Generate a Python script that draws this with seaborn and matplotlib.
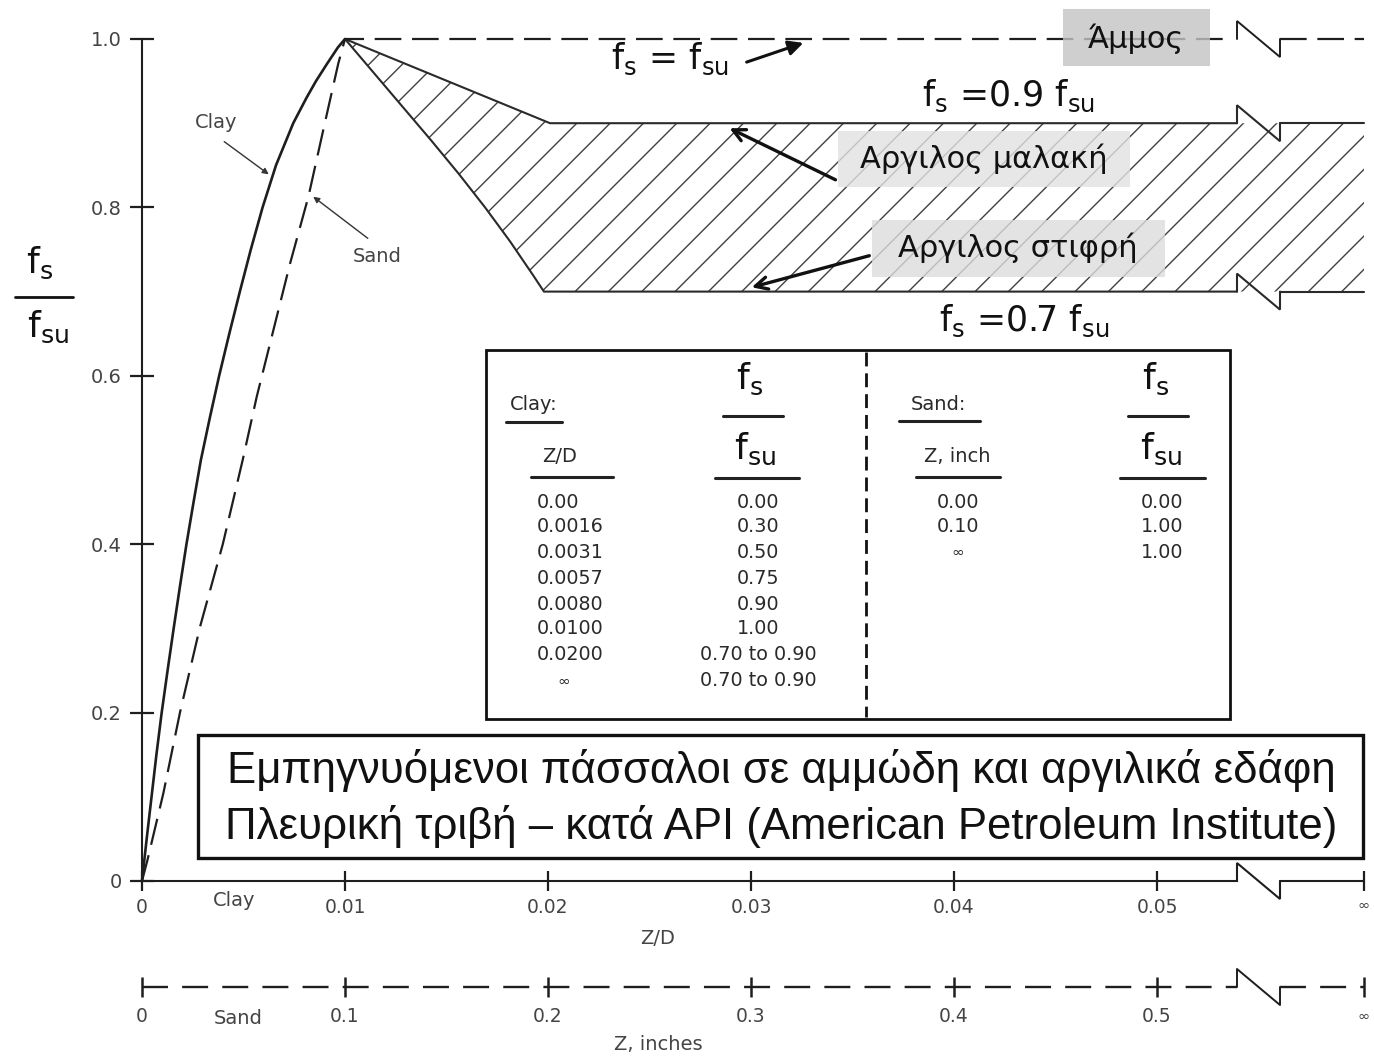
import matplotlib
matplotlib.use("Agg")
import matplotlib.pyplot as plt
import seaborn as sns
from matplotlib.patches import Rectangle

# ---------------- data ----------------
clay_fs = [0.0, 0.05, 0.10, 0.15, 0.20, 0.25, 0.30, 0.35, 0.40, 0.45, 0.50, 0.55, 0.60,
           0.65, 0.70, 0.75, 0.80, 0.85, 0.90, 0.93, 0.95, 0.97, 0.99, 1.00]
clay_zd = [0.0, 0.00023, 0.00047, 0.00071, 0.00097, 0.00126, 0.00156, 0.00187, 0.00219,
           0.00254, 0.0029, 0.00334, 0.0038, 0.0043, 0.00482, 0.00536, 0.00594, 0.0066,
           0.00745, 0.0081, 0.00857, 0.0091, 0.00965, 0.0100]

sand_zd = [0.0, 0.00027, 0.00105, 0.00187, 0.00286, 0.00398, 0.00496, 0.00565,
           0.00647, 0.00729, 0.0082, 0.00893, 0.00967, 0.0100]
sand_fs = [0.0, 0.025, 0.104, 0.20, 0.302, 0.40, 0.50, 0.575,
           0.654, 0.733, 0.813, 0.892, 0.971, 1.00]

soft_zd = [0.0100, 0.0201]                       # soft clay (upper bound)
soft_fs = [1.00, 0.90]
stiff_zd = [0.0100, 0.01141, 0.01282, 0.01423, 0.0156, 0.0169, 0.01812, 0.01925, 0.0198]
stiff_fs = [1.00, 0.96, 0.92, 0.88, 0.84, 0.80, 0.76, 0.72, 0.70]

sand_limit = 1.0
soft_limit = 0.9
stiff_limit = 0.7

zd_ticks = [0, 0.01, 0.02, 0.03, 0.04, 0.05]
zd_tick_labels = ["0", "0.01", "0.02", "0.03", "0.04", "0.05"]
z_in_ticks = [0, 0.1, 0.2, 0.3, 0.4, 0.5]
z_in_tick_labels = ["0", "0.1", "0.2", "0.3", "0.4", "0.5"]
fs_ticks = [0, 0.2, 0.4, 0.6, 0.8, 1.0]
fs_tick_labels = ["0", "0.2", "0.4", "0.6", "0.8", "1.0"]

table_clay_zd = ["0.00", "0.0016", "0.0031", "0.0057", "0.0080", "0.0100", "0.0200", "∞"]
table_clay_fs = ["0.00", "0.30", "0.50", "0.75", "0.90", "1.00", "0.70 to 0.90", "0.70 to 0.90"]
table_sand_z = ["0.00", "0.10", "∞"]
table_sand_fs = ["0.00", "1.00", "1.00"]

# ---------------- layout helpers ----------------
W, H = 1374, 1056
def X(px):
    return (px - 142) / 20300.0
def Y(py):
    return (881 - py) / 842.0

Z_INF = X(1364)          # position of the "infinity" tick
BRK0, BRK1 = X(1237), X(1280)   # axis-break zigzag
INCH_POS = 0.1           # 0.1 inch drawn at the 0.01 Z/D position
DY = 18 / 842.0

sns.set_theme(style="ticks")
plt.rcParams["font.family"] = ["DejaVu Sans"]
plt.rcParams["mathtext.fontset"] = "dejavusans"
plt.rcParams["hatch.linewidth"] = 1.0
plt.rcParams["hatch.color"] = "#404040"

fig = plt.figure(figsize=(13.74, 10.56), dpi=100)
ax = fig.add_axes([0, 0, 1, 1])
ax.set_xlim(X(0), X(W))
ax.set_ylim(Y(H), Y(0))
ax.set_facecolor("white")

LC = "#1e1e1e"
GT = "#444444"
# ---------------- axes (spines, ticks) ----------------
for s in ["top", "right"]:
    ax.spines[s].set_visible(False)
ax.spines["left"].set_position(("data", 0))
ax.spines["left"].set_bounds(0, 1)
ax.spines["bottom"].set_position(("data", 0))
ax.spines["bottom"].set_bounds(0, BRK0)
for s in ["left", "bottom"]:
    ax.spines[s].set_linewidth(1.5)
    ax.spines[s].set_color(LC)

ax.set_xticks(zd_ticks + [Z_INF], zd_tick_labels + ["∞"])
ax.set_yticks(fs_ticks, fs_tick_labels)
ax.tick_params(axis="both", direction="inout", width=1.6, color=LC, labelcolor=GT)
ax.tick_params(axis="y", length=17, pad=6, labelsize=14)
ax.tick_params(axis="x", length=14.5, pad=5, labelsize=13.5)
ax.get_xticklabels()[-1].set_fontsize(10.5)

def zigzag(y, lw=1.5, color=LC):
    ax.plot([BRK0, BRK0, BRK1, BRK1], [y, y + DY, y - DY, y], color=color,
            lw=lw, solid_joinstyle="miter", zorder=3)

# bottom axis break + tail to infinity
zigzag(0.0)
ax.plot([BRK1, Z_INF], [0, 0], color=LC, lw=1.5)

# ---------------- hatched band (soft / stiff clay) ----------------
poly_x = soft_zd + [Z_INF, Z_INF, stiff_zd[-1]] + stiff_zd[::-1][1:]
poly_y = soft_fs + [soft_limit, stiff_limit, stiff_limit] + stiff_fs[::-1][1:]
ax.fill(poly_x, poly_y, facecolor="none", edgecolor="#404040", hatch="/", linewidth=0, zorder=1)

band_lw = 1.5
sns.lineplot(x=soft_zd + [BRK0], y=soft_fs + [soft_limit], ax=ax, color="#2a2a2a",
             lw=band_lw, sort=False, estimator=None)
sns.lineplot(x=stiff_zd + [BRK0], y=stiff_fs + [stiff_limit], ax=ax, color="#2a2a2a",
             lw=band_lw, sort=False, estimator=None)
zigzag(soft_limit, lw=band_lw, color="#2a2a2a")
zigzag(stiff_limit, lw=band_lw, color="#2a2a2a")
ax.plot([BRK1, Z_INF], [soft_limit, soft_limit], color="#2a2a2a", lw=band_lw)
ax.plot([BRK1, Z_INF], [stiff_limit, stiff_limit], color="#2a2a2a", lw=band_lw)

# ---------------- clay and sand curves ----------------
sns.lineplot(x=clay_zd, y=clay_fs, ax=ax, color=LC, lw=1.9, sort=False, estimator=None)
dash = (0, (12, 4.8))
sns.lineplot(x=sand_zd + [BRK0 - 0.0002], y=sand_fs + [sand_limit], ax=ax, color=LC, lw=1.6,
             sort=False, estimator=None, linestyle=dash)
zigzag(sand_limit, lw=1.4)
ax.plot([BRK1, Z_INF], [sand_limit, sand_limit], color=LC, lw=1.6, linestyle=dash)

# ---------------- second (sand) axis: Z, inches ----------------
ys = Y(987)
sdash = (0, (11, 6))
ax.plot([0, BRK0], [ys, ys], color=LC, lw=1.7, linestyle=sdash)
ax.plot([BRK0, BRK0, BRK1, BRK1], [ys, ys + DY, ys - DY, ys], color=LC, lw=1.4)
ax.plot([BRK1, Z_INF], [ys, ys], color=LC, lw=1.7, linestyle=sdash)
sand_tick_pos = [t * INCH_POS for t in z_in_ticks] + [Z_INF]
ax.plot(sand_tick_pos, [ys] * len(sand_tick_pos), ls="none", marker="|",
        markersize=14.5, mew=1.8, color=LC)
for t, lab in zip(z_in_ticks, z_in_tick_labels):
    ax.text(t * INCH_POS, Y(1016), lab, ha="center", va="center", fontsize=13.5, color=GT)
ax.text(Z_INF, Y(1016), "∞", ha="center", va="center", fontsize=10.5, color=GT)

# axis captions
ax.text(X(234), Y(900), "Clay", ha="center", va="center", fontsize=14, color=GT)
ax.text(X(658), Y(938), "Z/D", ha="center", va="center", fontsize=14, color=GT)
ax.text(X(238), Y(1018), "Sand", ha="center", va="center", fontsize=14, color=GT)
ax.text(X(658), Y(1045), "Z, inches", ha="center", va="center", fontsize=14, color=GT)

# y label as a fraction
ax.text(X(40), Y(263), r"f$_\mathregular{s}$", ha="center", va="center", fontsize=26, color="#111")
ax.plot([X(15), X(73)], [Y(297), Y(297)], color="#111", lw=2)
ax.text(X(48), Y(327), r"f$_\mathregular{su}$", ha="center", va="center", fontsize=26, color="#111")

# ---------------- curve labels / arrows ----------------
ax.text(X(216), Y(122), "Clay", ha="center", va="center", fontsize=14, color=GT)
ax.annotate("", xy=(X(271), Y(176)), xytext=(X(222), Y(140)),
            arrowprops=dict(arrowstyle="-|>", color="#333", lw=1.0, mutation_scale=9))
ax.text(X(377), Y(257), "Sand", ha="center", va="center", fontsize=14, color=GT)
ax.annotate("", xy=(X(311), Y(195)), xytext=(X(370), Y(240)),
            arrowprops=dict(arrowstyle="-|>", color="#333", lw=1.0, mutation_scale=9))

ax.text(X(670), Y(59), r"f$_\mathregular{s}$ = f$_\mathregular{su}$", ha="center", va="center",
        fontsize=25, color="#111")
ax.annotate("", xy=(X(806), Y(42)), xytext=(X(744), Y(63)),
            arrowprops=dict(arrowstyle="-|>", color="#111", lw=2.2, mutation_scale=22))

ax.text(X(1009), Y(96), r"f$_\mathregular{s}$ =0.9 f$_\mathregular{su}$", ha="center", va="center",
        fontsize=25, color="#111")
ax.text(X(1024), Y(321), r"f$_\mathregular{s}$ =0.7 f$_\mathregular{su}$", ha="center", va="center",
        fontsize=25, color="#111")

# grey label boxes
ax.add_patch(Rectangle((X(1063), Y(66)), X(1210) - X(1063), Y(9) - Y(66),
                       facecolor="#c4c4c4", edgecolor="none", alpha=0.8, zorder=4))
ax.text(X(1136), Y(39), "Άμμος", ha="center", va="center", fontsize=22, color="#111", zorder=5)

ax.add_patch(Rectangle((X(838), Y(187)), X(1130) - X(838), Y(131) - Y(187),
                       facecolor="#e2e2e2", edgecolor="none", alpha=0.8, zorder=4))
ax.text(X(984), Y(159), "Αργιλος μαλακή", ha="center", va="center", fontsize=22, color="#111", zorder=5)
ax.annotate("", xy=(X(727), Y(127)), xytext=(X(838), Y(181)),
            arrowprops=dict(arrowstyle="->", color="#111", lw=2.4, mutation_scale=22), zorder=5)

ax.add_patch(Rectangle((X(872), Y(277)), X(1165) - X(872), Y(220) - Y(277),
                       facecolor="#dcdcdc", edgecolor="none", alpha=0.8, zorder=4))
ax.text(X(1018), Y(248), "Αργιλος στιφρή", ha="center", va="center", fontsize=22, color="#111", zorder=5)
ax.annotate("", xy=(X(749), Y(288)), xytext=(X(872), Y(255)),
            arrowprops=dict(arrowstyle="->", color="#111", lw=2.4, mutation_scale=22), zorder=5)

# ---------------- table ----------------
ax.add_patch(Rectangle((X(486), Y(719)), X(1230) - X(486), Y(350) - Y(719),
                       facecolor="white", edgecolor="#111", lw=2.0, zorder=2))
ax.plot([X(866), X(866)], [Y(352), Y(717)], color="#111", lw=2.0, linestyle=(0, (5, 2.5)), zorder=3)

def hl(x0, x1, py, lw=2.2):
    ax.plot([X(x0), X(x1)], [Y(py), Y(py)], color="#222", lw=lw, zorder=3)

tc = "#2a2a2a"
ax.text(X(534), Y(404), "Clay:", ha="center", va="center", fontsize=14, color=tc, zorder=3)
hl(506, 562, 422)
ax.text(X(560), Y(457), "Z/D", ha="center", va="center", fontsize=14, color=tc, zorder=3)
hl(531, 613, 477)
ax.text(X(938), Y(404), "Sand:", ha="center", va="center", fontsize=14, color=tc, zorder=3)
hl(899, 980, 421)
ax.text(X(957), Y(457), "Z, inch", ha="center", va="center", fontsize=14, color=tc, zorder=3)
hl(916, 1000, 477)

for cx, bar, ul in [(752, (723, 783), (715, 799)), (1158, (1128, 1188), (1120, 1205))]:
    ax.text(X(cx - 2), Y(379), r"f$_\mathregular{s}$", ha="center", va="center", fontsize=26, color="#111", zorder=3)
    hl(bar[0], bar[1], 416)
    ax.text(X(cx + 3), Y(449), r"f$_\mathregular{su}$", ha="center", va="center", fontsize=26, color="#111", zorder=3)
    hl(ul[0], ul[1], 478)

row_y = [502, 527, 552, 578, 604, 629, 655, 681]
for i, (a, b) in enumerate(zip(table_clay_zd, table_clay_fs)):
    if a == "∞":
        ax.text(X(564), Y(row_y[i]), a, ha="center", va="center", fontsize=11, color=tc, zorder=3)
    else:
        ax.text(X(537), Y(row_y[i]), a, ha="left", va="center", fontsize=13.8, color=tc, zorder=3)
    ax.text(X(758), Y(row_y[i]), b, ha="center", va="center", fontsize=13.8, color=tc, zorder=3)
for i, (a, b) in enumerate(zip(table_sand_z, table_sand_fs)):
    ax.text(X(958), Y(row_y[i]), a, ha="center", va="center",
            fontsize=11 if a == "∞" else 13.8, color=tc, zorder=3)
    ax.text(X(1162), Y(row_y[i]), b, ha="center", va="center", fontsize=13.8, color=tc, zorder=3)

# ---------------- title box ----------------
ax.add_patch(Rectangle((X(198), Y(858)), X(1363) - X(198), Y(735) - Y(858),
                       facecolor="white", edgecolor="#111", lw=2.4, zorder=2))
ax.text(X(781), Y(771), "Εμπηγνυόμενοι πάσσαλοι σε αμμώδη και αργιλικά εδάφη",
        ha="center", va="center", fontsize=31.5, color="#111", family=["Liberation Sans"], zorder=3)
ax.text(X(781), Y(826), "Πλευρική τριβή – κατά API (American Petroleum Institute)",
        ha="center", va="center", fontsize=31.5, color="#111", family=["Liberation Sans"], zorder=3)

fig.savefig("out.png", dpi=100)
